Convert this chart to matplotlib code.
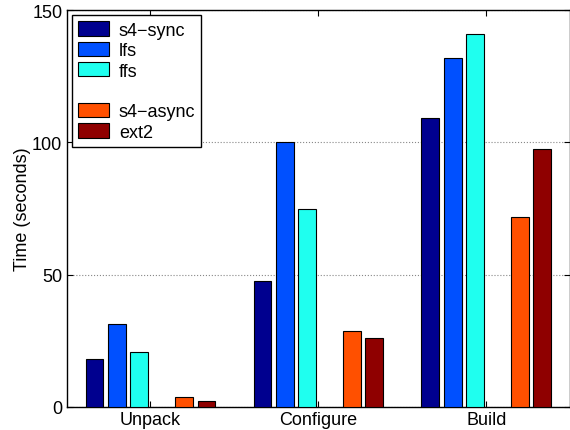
import numpy as np
import matplotlib.pyplot as plt
from matplotlib.patches import Patch

plt.rcParams['font.family'] = ['Liberation Sans', 'DejaVu Sans']

# data
groups = ['Unpack', 'Configure', 'Build']
series = ['s4\u2212sync', 'lfs', 'ffs', '', 's4\u2212async', 'ext2']
s4_sync = [18.1, 47.5, 109.1]
lfs = [31.4, 100.0, 131.7]
ffs = [20.8, 75.0, 140.9]
gap = [0, 0, 0]
s4_async = [3.8, 28.6, 71.8]
ext2 = [2.3, 26.0, 97.4]
values = [s4_sync, lfs, ffs, gap, s4_async, ext2]
colors = ['#00008F', '#0050FF', '#1FFFEF', 'none', '#FF5000', '#8F0000']

fig = plt.figure(figsize=(5.7, 4.31), dpi=100)
ax = fig.add_axes([0.1167, 0.0534, 0.884, 0.921])

x = np.arange(1, len(groups) + 1)
n = len(series)
step = 0.8 / n
width = 0.8 * step

handles = []
for i, (vals, c, name) in enumerate(zip(values, colors, series)):
    offs = (i - (n - 1) / 2) * step
    if name:
        ax.bar(x + offs, vals, width, color=c, edgecolor='black',
               linewidth=0.8, zorder=3)
        handles.append(Patch(facecolor=c, edgecolor='black', linewidth=0.8,
                             label=name))
    else:
        # empty slot between the two sets
        handles.append(Patch(facecolor='none', edgecolor='none', label=' '))

ax.set_xlim(0.5, 3.5)
ax.set_ylim(0, 150)
ax.set_yticks([0, 50, 100, 150])
ax.set_xticks(x)
ax.set_xticklabels(groups)
ax.set_ylabel('Time (seconds)', fontsize=13, labelpad=1)
ax.tick_params(direction='in', top=True, right=True, labelsize=13,
               length=4, width=0.8, pad=3)
ax.yaxis.grid(True, linestyle=':', color='#888888', linewidth=0.8, zorder=0)
ax.set_axisbelow(True)
for sp in ax.spines.values():
    sp.set_linewidth(1.0)

leg = ax.legend(handles=handles, loc='upper left', fontsize=13,
                fancybox=False, edgecolor='black', framealpha=1,
                handlelength=1.72, handleheight=0.85, labelspacing=0.16,
                borderaxespad=0.3, handletextpad=0.55, borderpad=0.33)
leg.get_frame().set_linewidth(1.0)

fig.savefig('out.png', dpi=100)
